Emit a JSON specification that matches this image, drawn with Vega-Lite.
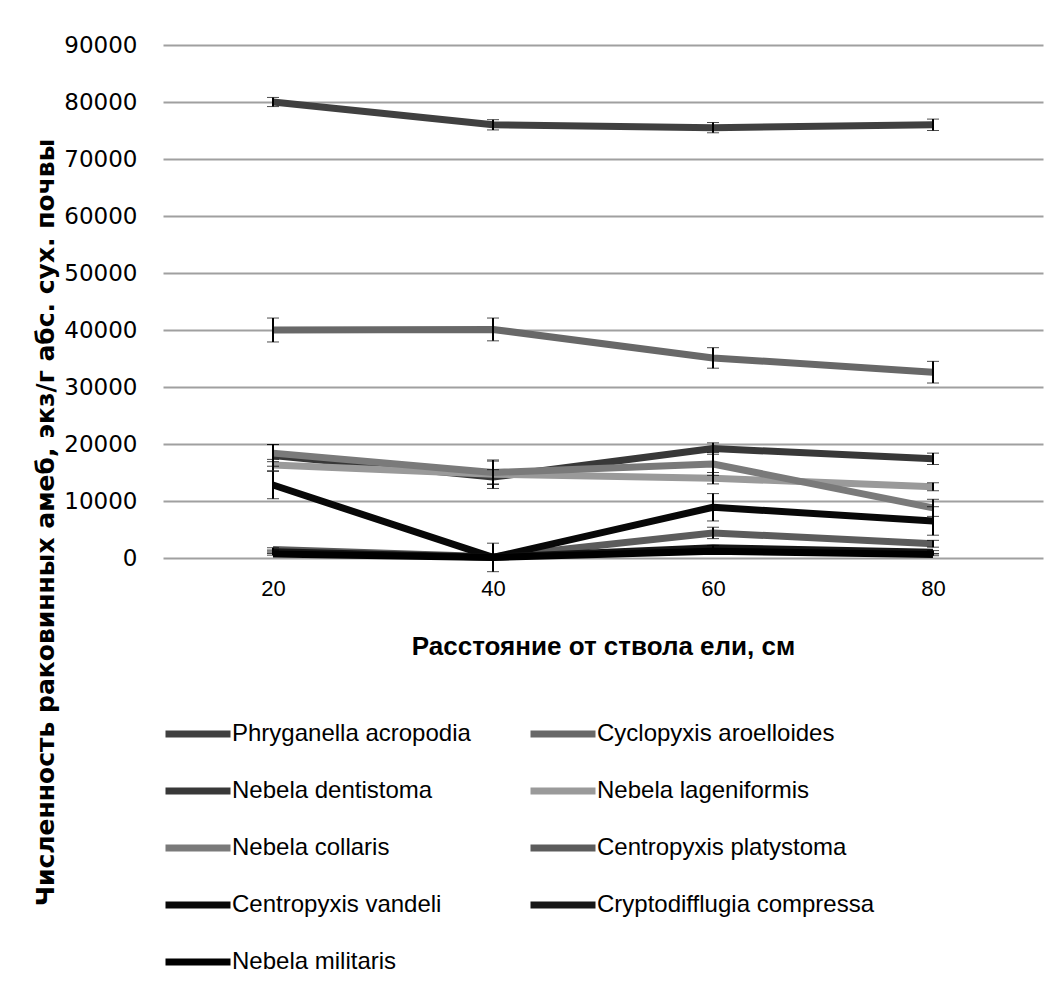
{
  "$schema": "https://vega.github.io/schema/vega-lite/v6.json",
  "width": 880,
  "height": 513,
  "autosize": {"type": "none"},
  "padding": {"left": 163, "top": 45, "right": 19, "bottom": 433},
  "background": "white",
  "config": {
    "view": {"stroke": null},
    "font": "Liberation Sans"
  },
  "data": {
    "values": [
      {"species": "Phryganella acropodia", "dist": 20, "n": 80000, "err": 800},
      {"species": "Phryganella acropodia", "dist": 40, "n": 76000, "err": 900},
      {"species": "Phryganella acropodia", "dist": 60, "n": 75500, "err": 900},
      {"species": "Phryganella acropodia", "dist": 80, "n": 76000, "err": 1000},
      {"species": "Cyclopyxis aroelloides", "dist": 20, "n": 40000, "err": 2100},
      {"species": "Cyclopyxis aroelloides", "dist": 40, "n": 40100, "err": 2000},
      {"species": "Cyclopyxis aroelloides", "dist": 60, "n": 35100, "err": 1800},
      {"species": "Cyclopyxis aroelloides", "dist": 80, "n": 32600, "err": 1900},
      {"species": "Nebela dentistoma", "dist": 20, "n": 18000, "err": 1900},
      {"species": "Nebela dentistoma", "dist": 40, "n": 14200, "err": 1300},
      {"species": "Nebela dentistoma", "dist": 60, "n": 19200, "err": 1000},
      {"species": "Nebela dentistoma", "dist": 80, "n": 17400, "err": 1000},
      {"species": "Nebela lageniformis", "dist": 20, "n": 16300, "err": 1000},
      {"species": "Nebela lageniformis", "dist": 40, "n": 14700, "err": 2500},
      {"species": "Nebela lageniformis", "dist": 60, "n": 14000, "err": 1000},
      {"species": "Nebela lageniformis", "dist": 80, "n": 12500, "err": 700},
      {"species": "Nebela collaris", "dist": 20, "n": 18400, "err": 1500},
      {"species": "Nebela collaris", "dist": 40, "n": 15000, "err": 2000},
      {"species": "Nebela collaris", "dist": 60, "n": 16500, "err": 2000},
      {"species": "Nebela collaris", "dist": 80, "n": 8800, "err": 1500},
      {"species": "Centropyxis platystoma", "dist": 20, "n": 1500, "err": 300},
      {"species": "Centropyxis platystoma", "dist": 40, "n": 200, "err": 300},
      {"species": "Centropyxis platystoma", "dist": 60, "n": 4400, "err": 1000},
      {"species": "Centropyxis platystoma", "dist": 80, "n": 2500, "err": 600},
      {"species": "Centropyxis vandeli", "dist": 20, "n": 12800, "err": 2400},
      {"species": "Centropyxis vandeli", "dist": 40, "n": 100, "err": 2500},
      {"species": "Centropyxis vandeli", "dist": 60, "n": 8900, "err": 2400},
      {"species": "Centropyxis vandeli", "dist": 80, "n": 6500, "err": 2500},
      {"species": "Cryptodifflugia compressa", "dist": 20, "n": 1100, "err": 300},
      {"species": "Cryptodifflugia compressa", "dist": 40, "n": 150, "err": 300},
      {"species": "Cryptodifflugia compressa", "dist": 60, "n": 1800, "err": 400},
      {"species": "Cryptodifflugia compressa", "dist": 80, "n": 1000, "err": 300},
      {"species": "Nebela militaris", "dist": 20, "n": 700, "err": 200},
      {"species": "Nebela militaris", "dist": 40, "n": 100, "err": 200},
      {"species": "Nebela militaris", "dist": 60, "n": 1200, "err": 300},
      {"species": "Nebela militaris", "dist": 80, "n": 600, "err": 200}
    ]
  },
  "encoding": {
    "x": {
      "field": "dist",
      "type": "ordinal",
      "scale": {"type": "point", "padding": 0.5},
      "axis": {
        "title": "Расстояние от ствола ели, см",
        "labelAngle": 0,
        "labelFont": "Liberation Sans",
        "labelFontSize": 22,
        "labelColor": "#000000",
        "labelPadding": 20,
        "domain": false,
        "ticks": false,
        "grid": false,
        "titleFont": "Liberation Sans",
        "titleFontSize": 26,
        "titleFontWeight": "bold",
        "titleColor": "#000000",
        "titlePadding": 34
      }
    },
    "y": {
      "field": "n",
      "type": "quantitative",
      "scale": {"domain": [0, 90000]},
      "axis": {
        "title": "Численность раковинных амеб, экз/г абс. сух. почвы",
        "values": [0, 10000, 20000, 30000, 40000, 50000, 60000, 70000, 80000, 90000],
        "format": "d",
        "labelFont": "DejaVu Sans",
        "labelFontSize": 23,
        "labelColor": "#000000",
        "labelPadding": 26,
        "domain": false,
        "ticks": false,
        "grid": true,
        "gridColor": "#a0a0a0",
        "gridWidth": 2,
        "titleFont": "DejaVu Sans",
        "titleFontSize": 25,
        "titleFontWeight": "bold",
        "titleColor": "#000000",
        "titleAngle": 270,
        "titleAlign": "center",
        "titleBaseline": "middle",
        "titleX": -118,
        "titleY": 477
      }
    }
  },
  "layer": [
    {
      "mark": {"type": "line", "strokeWidth": 7, "strokeCap": "butt", "strokeJoin": "round"},
      "encoding": {
        "color": {
          "field": "species",
          "type": "nominal",
          "scale": {
            "domain": ["Phryganella acropodia", "Cyclopyxis aroelloides", "Nebela dentistoma", "Nebela lageniformis", "Nebela collaris", "Centropyxis platystoma", "Centropyxis vandeli", "Cryptodifflugia compressa", "Nebela militaris"],
            "range": ["#404040", "#686868", "#383838", "#9a9a9a", "#7a7a7a", "#5c5c5c", "#080808", "#161616", "#000000"]
          },
          "legend": {
            "title": null,
            "orient": "none",
            "direction": "horizontal",
            "legendX": -1,
            "legendY": 653,
            "columns": 2,
            "columnPadding": 45,
            "rowPadding": 7,
            "symbolType": "stroke",
            "symbolSize": 4225,
            "symbolStrokeWidth": 7,
            "labelFont": "Liberation Sans",
            "labelFontSize": 24,
            "labelColor": "#000000",
            "labelOffset": -2,
            "labelLimit": 400
          }
        },
        "order": {"field": "dist"}
      }
    },
    {
      "mark": {"type": "errorbar", "ticks": {"size": 12, "color": "#000000", "strokeWidth": 2}, "rule": {"color": "#000000", "strokeWidth": 2}},
      "encoding": {
        "yError": {"field": "err"},
        "detail": {"field": "species"}
      }
    }
  ]
}
